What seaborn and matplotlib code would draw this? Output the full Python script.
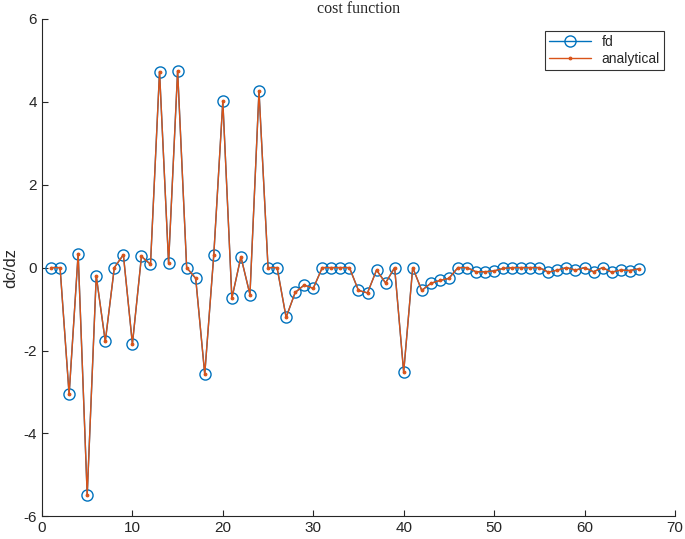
import numpy as np
import pandas as pd
import matplotlib
matplotlib.use('Agg')
import matplotlib.pyplot as plt
import seaborn as sns

# gradient check values (index 1..66)
idx = list(range(1, 67))
fd = [0, 0, -3.06, 0.34, -5.49, -0.2, -1.78, 0, 0.31, -1.84,
      0.27, 0.08, 4.73, 0.11, 4.75, 0, -0.26, -2.57, 0.31, 4.01,
      -0.74, 0.26, -0.65, 4.26, 0, 0, -1.2, -0.6, -0.42, -0.5,
      0, 0, 0, 0, -0.55, -0.61, -0.06, -0.37, 0, -2.52,
      0, -0.55, -0.38, -0.31, -0.26, 0, 0, -0.1, -0.1, -0.08,
      -0.02, 0, 0, 0, 0, -0.11, -0.06, 0, -0.06, 0,
      -0.1, 0, -0.11, -0.06, -0.07, -0.03]
analytical = list(fd)

xticks = [0, 10, 20, 30, 40, 50, 60, 70]
yticks = [-6, -4, -2, 0, 2, 4, 6]

df = pd.DataFrame({'i': idx, 'fd': fd, 'analytical': analytical})

sns.set_style('ticks')
plt.rcParams['font.family'] = ['Liberation Sans', 'DejaVu Sans']
plt.rcParams['axes.unicode_minus'] = False

fig = plt.figure(figsize=(6.85, 5.39), dpi=100)
ax = fig.add_axes([0.0613, 0.042, 0.924, 0.923])

blue = '#0072BD'
orange = '#D95319'

sns.lineplot(data=df, x='i', y='fd', ax=ax, color=blue, linewidth=1.0,
             marker='o', markersize=8, markerfacecolor='none',
             markeredgecolor=blue, markeredgewidth=1.0, label='fd')
sns.lineplot(data=df, x='i', y='analytical', ax=ax, color=orange, linewidth=1.0,
             marker='.', markersize=4, markeredgecolor=orange, label='analytical')

ax.set_xlim(0, 70)
ax.set_ylim(-6, 6)
ax.set_xticks(xticks)
ax.set_yticks(yticks)
ax.tick_params(direction='in', labelsize=11, length=4, width=0.8)
ax.set_xlabel('')
ax.set_ylabel('dc/dz', fontsize=12)
sns.despine(ax=ax)
for s in ['left', 'bottom']:
    ax.spines[s].set_color('#262626')
    ax.spines[s].set_linewidth(0.8)

ax.set_title('cost function', fontsize=11.5, family=['Liberation Serif', 'DejaVu Serif'], pad=4)

leg = ax.legend(loc='upper right', bbox_to_anchor=(0.983, 0.976), borderaxespad=0,
                fontsize=10, frameon=True, fancybox=False, edgecolor='black',
                handlelength=3.0, borderpad=0.3, labelspacing=0.2)
leg.get_frame().set_linewidth(0.8)

fig.savefig('out.png', dpi=100)
